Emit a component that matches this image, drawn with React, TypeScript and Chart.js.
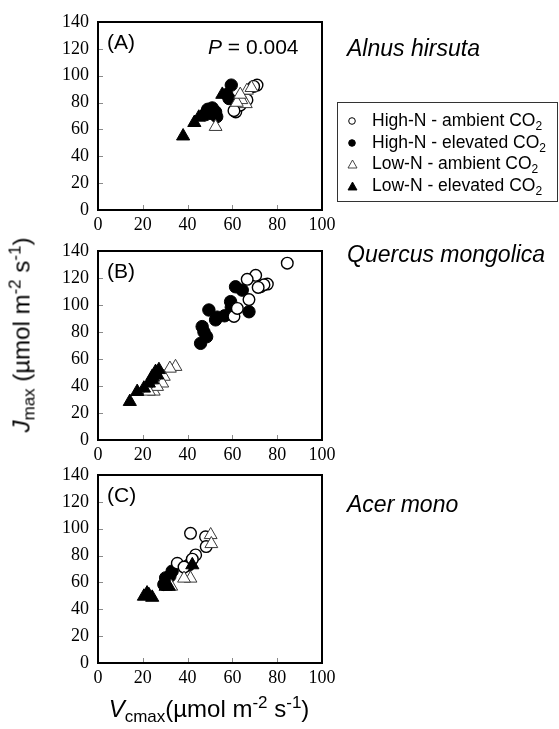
import React, { useEffect, useRef } from "react";
import { Chart, registerables } from "chart.js";

Chart.register(...registerables);

// ---- page geometry ----
const W = 559;
const H = 729;
const PLOT_LEFT = 98;
const PLOT_RIGHT = 322;
const X_AXIS_H = 30;

const SANS = '"Liberation Sans", Arial, Helvetica, sans-serif';
const SERIF = '"Liberation Serif", "Times New Roman", Times, serif';

// ---- axes ----
const xTickValues = [0, 20, 40, 60, 80, 100];
const yTickValues = [0, 20, 40, 60, 80, 100, 120, 140];

// ---- legend ----
const groupLabels = ["High-N - ambient CO", "High-N - elevated CO", "Low-N - ambient CO", "Low-N - elevated CO"];

// ---- (A) Alnus hirsuta: Vcmax / Jmax ----
const alnusHighAmbV = [71, 69.5, 61.5, 66.5, 63.5, 60.7];
const alnusHighAmbJ = [93, 92, 73, 82, 78, 74];
const alnusHighElevV = [59.5, 58.5, 57.5, 49, 50.5, 52.5, 53, 48, 51];
const alnusHighElevJ = [93, 83, 86, 75, 72, 73, 69.5, 71, 76];
const alnusLowAmbV = [52.5, 66, 64, 66.5, 68.5, 62, 63.5];
const alnusLowAmbJ = [62, 79, 82, 89, 91, 80, 86];
const alnusLowElevV = [38, 43, 45, 47, 55.5];
const alnusLowElevJ = [55, 65, 69, 72, 86];

// ---- (B) Quercus mongolica ----
const quercusHighAmbV = [84.5, 70.4, 66.6, 75.6, 72.6, 74.1, 67.4, 60.7, 62.2, 71.5];
const quercusHighAmbJ = [131, 122, 119, 115.5, 113.5, 115, 104, 91.5, 97.5, 113];
const quercusHighElevV = [61.4, 64.4, 59.2, 59.5, 67.4, 56.5, 53.2, 49.5, 52.5, 46.5, 47.3, 45.8, 48.5, 60.7];
const quercusHighElevJ = [113.5, 111, 102.5, 98.3, 95, 92, 91, 96.3, 89, 84, 80, 71.6, 76.5, 95];
const quercusLowAmbV = [34.6, 32.1, 29.4, 28.7, 24.9, 26.4, 22.7];
const quercusLowAmbJ = [54.3, 53, 47, 42, 36, 39.5, 36];
const quercusLowElevV = [14.2, 17.5, 20.5, 22.7, 24.2, 25.7, 27.2, 24.2, 26.4];
const quercusLowElevJ = [28.4, 35.8, 38.3, 42, 47, 50.6, 52, 44.4, 48];

// ---- (C) Acer mono ----
const acerHighAmbV = [41.3, 48, 48.3, 43.6, 42.1, 35.4, 38.4];
const acerHighAmbJ = [96.6, 94, 86.7, 80.5, 77.3, 74.3, 71.4];
const acerHighElevV = [33.1, 30.2, 29.4, 32.1, 40.6];
const acerHighElevJ = [68.4, 63.4, 58.5, 64.7, 73];
const acerLowAmbV = [50.3, 50.6, 41.3, 38.4, 32.7];
const acerLowAmbJ = [95.4, 88.7, 63, 63, 57];
const acerLowElevV = [21.9, 20.5, 24.2, 22.7, 31.6, 42.1, 30.2];
const acerLowElevJ = [52, 49.6, 48.8, 50.8, 57, 73, 57];

const pairs = (v: number[], j: number[]) => v.map((x, i) => ({ x, y: j[i] }));

type Panel = {
  tag: string;
  species: string;
  top: number;
  bottom: number;
  speciesY: number;
  note?: string;
  groups: { v: number[]; j: number[] }[];
};

const panels: Panel[] = [
  {
    tag: "(A)",
    species: "Alnus hirsuta",
    top: 22,
    bottom: 210,
    speciesY: 48,
    note: "0.004",
    groups: [
      { v: alnusHighAmbV, j: alnusHighAmbJ },
      { v: alnusHighElevV, j: alnusHighElevJ },
      { v: alnusLowAmbV, j: alnusLowAmbJ },
      { v: alnusLowElevV, j: alnusLowElevJ },
    ],
  },
  {
    tag: "(B)",
    species: "Quercus mongolica",
    top: 251,
    bottom: 440,
    speciesY: 254,
    groups: [
      { v: quercusHighAmbV, j: quercusHighAmbJ },
      { v: quercusHighElevV, j: quercusHighElevJ },
      { v: quercusLowAmbV, j: quercusLowAmbJ },
      { v: quercusLowElevV, j: quercusLowElevJ },
    ],
  },
  {
    tag: "(C)",
    species: "Acer mono",
    top: 475,
    bottom: 663,
    speciesY: 504,
    groups: [
      { v: acerHighAmbV, j: acerHighAmbJ },
      { v: acerHighElevV, j: acerHighElevJ },
      { v: acerLowAmbV, j: acerLowAmbJ },
      { v: acerLowElevV, j: acerLowElevJ },
    ],
  },
];

// marker styles per treatment group; order: lower draws on top
const groupStyles = [
  { pointStyle: "circle", radius: 5.8, bg: "#ffffff", border: "#000000", bw: 1.4, order: 2 },
  { pointStyle: "circle", radius: 6.2, bg: "#000000", border: "#000000", bw: 1, order: 3 },
  { pointStyle: "triangle", radius: 7.4, bg: "#ffffff", border: "#3a3a3a", bw: 1, order: 1 },
  { pointStyle: "triangle", radius: 7.6, bg: "#000000", border: "#000000", bw: 1, order: 0 },
];

const framePlugin = {
  id: "panelFrame",
  beforeDatasetsDraw(chart: any) {
    const { ctx, chartArea: a, scales } = chart;
    ctx.save();
    ctx.strokeStyle = "#8a8a8a";
    ctx.lineWidth = 1;
    for (const t of yTickValues.slice(1, -1)) {
      const y = Math.round(scales.y.getPixelForValue(t)) + 0.5;
      ctx.beginPath();
      ctx.moveTo(a.left, y);
      ctx.lineTo(a.left + 5, y);
      ctx.stroke();
    }
    for (const t of xTickValues.slice(1, -1)) {
      const x = Math.round(scales.x.getPixelForValue(t)) + 0.5;
      ctx.beginPath();
      ctx.moveTo(x, a.bottom);
      ctx.lineTo(x, a.bottom - 5);
      ctx.stroke();
    }
    ctx.restore();
  },
  afterDraw(chart: any) {
    const { ctx, chartArea: a } = chart;
    ctx.save();
    ctx.strokeStyle = "#000";
    ctx.lineWidth = 2;
    ctx.strokeRect(a.left, a.top, a.right - a.left, a.bottom - a.top);
    ctx.restore();
  },
};

function PanelChart({ panel }: { panel: Panel }) {
  const ref = useRef<HTMLCanvasElement | null>(null);
  useEffect(() => {
    if (!ref.current) return;
    const tickFont = { family: SERIF, size: 18 };
    const chart = new Chart(ref.current, {
      type: "scatter",
      data: {
        datasets: panel.groups.map((g, i) => {
          const s = groupStyles[i];
          return {
            label: groupLabels[i],
            data: pairs(g.v, g.j),
            pointStyle: s.pointStyle as any,
            pointRadius: s.radius,
            pointBackgroundColor: s.bg,
            pointBorderColor: s.border,
            pointBorderWidth: s.bw,
            order: s.order,
          };
        }),
      },
      options: {
        animation: false,
        responsive: false,
        events: [],
        layout: {
          padding: {
            left: 0,
            top: panel.top,
            right: W - PLOT_RIGHT,
            bottom: H - panel.bottom - X_AXIS_H,
          },
        },
        scales: {
          x: {
            type: "linear",
            min: 0,
            max: 100,
            ticks: { stepSize: 20, color: "#000", font: tickFont, padding: 4, maxRotation: 0 },
            grid: { display: false, drawTicks: false },
            border: { display: false },
            afterFit: (s: any) => {
              s.height = X_AXIS_H;
            },
          },
          y: {
            type: "linear",
            min: 0,
            max: 140,
            ticks: { stepSize: 20, color: "#000", font: tickFont, padding: 9 },
            grid: { display: false, drawTicks: false },
            border: { display: false },
            afterFit: (s: any) => {
              s.width = PLOT_LEFT;
            },
          },
        },
        plugins: {
          legend: { display: false },
          tooltip: { enabled: false },
        },
      },
      plugins: [framePlugin],
    } as any);
    return () => chart.destroy();
  }, [panel]);
  return (
    <canvas
      ref={ref}
      width={W}
      height={H}
      style={{ position: "absolute", left: 0, top: 0, width: W, height: H }}
    />
  );
}

function LegendMarker({ i }: { i: number }) {
  if (i < 2) {
    return (
      <svg width="10" height="10" style={{ position: "absolute", left: 9, top: 6 }}>
        <circle cx="5" cy="5" r="3.3" fill={i === 0 ? "#fff" : "#000"} stroke="#000" strokeWidth="1" />
      </svg>
    );
  }
  return (
    <svg width="11" height="10" style={{ position: "absolute", left: 8.5, top: 6 }}>
      <polygon points="5.5,1 10,9 1,9" fill={i === 2 ? "#fff" : "#000"} stroke={i === 2 ? "#333" : "#000"} strokeWidth="0.9" />
    </svg>
  );
}

export default function App() {
  const sub = { fontSize: 17, position: "relative" as const, top: 5 };
  const sup = { fontSize: 17, position: "relative" as const, top: -9 };
  return (
    <div
      style={{
        position: "fixed",
        left: 0,
        top: 0,
        width: W,
        height: H,
        background: "#fff",
        overflow: "hidden",
        fontFamily: SANS,
        color: "#000",
      }}
    >
      {panels.map((p) => (
        <PanelChart key={p.tag} panel={p} />
      ))}

      {panels.map((p) => (
        <div
          key={p.tag + "-tag"}
          style={{ position: "absolute", left: 107, top: p.top + 8, fontSize: 21, lineHeight: "24px", whiteSpace: "nowrap" }}
        >
          {p.tag}
        </div>
      ))}
      {panels.map((p) =>
        p.note ? (
          <div
            key={p.tag + "-note"}
            style={{ position: "absolute", left: 208, top: p.top + 13, fontSize: 21, lineHeight: "24px", whiteSpace: "nowrap" }}
          >
            <i>P</i> = {p.note}
          </div>
        ) : null
      )}
      {panels.map((p) => (
        <div
          key={p.tag + "-sp"}
          style={{
            position: "absolute",
            left: 347,
            top: p.speciesY - 14,
            fontSize: 23,
            lineHeight: "28px",
            fontStyle: "italic",
            whiteSpace: "nowrap",
          }}
        >
          {p.species}
        </div>
      ))}

      {/* legend */}
      <div
        style={{
          position: "absolute",
          left: 337,
          top: 102,
          width: 221,
          height: 100,
          border: "1px solid #333",
          boxSizing: "border-box",
        }}
      >
        {groupLabels.map((lab, i) => (
          <div key={lab} style={{ position: "absolute", left: 0, top: 7 + i * 21.7, height: 22, width: 219 }}>
            <LegendMarker i={i} />
            <span
              style={{ position: "absolute", left: 34, top: 0, fontSize: 17.5, lineHeight: "20px", whiteSpace: "nowrap" }}
            >
              {lab}
              <span style={{ fontSize: 12, position: "relative", top: 4 }}>2</span>
            </span>
          </div>
        ))}
      </div>

      {/* y-axis title */}
      <div
        style={{
          position: "absolute",
          left: 23,
          top: 335,
          transform: "translate(-50%, -50%) rotate(-90deg)",
          fontSize: 24,
          lineHeight: "28px",
          whiteSpace: "nowrap",
        }}
      >
        <i>J</i>
        <span style={sub}>max</span> (µmol m<span style={sup}>-2</span> s<span style={sup}>-1</span>)
      </div>

      {/* x-axis title */}
      <div
        style={{
          position: "absolute",
          left: 209,
          top: 710,
          transform: "translate(-50%, -50%)",
          fontSize: 24,
          lineHeight: "28px",
          whiteSpace: "nowrap",
        }}
      >
        <i>V</i>
        <span style={sub}>cmax</span>(µmol m<span style={sup}>-2</span> s<span style={sup}>-1</span>)
      </div>
    </div>
  );
}
